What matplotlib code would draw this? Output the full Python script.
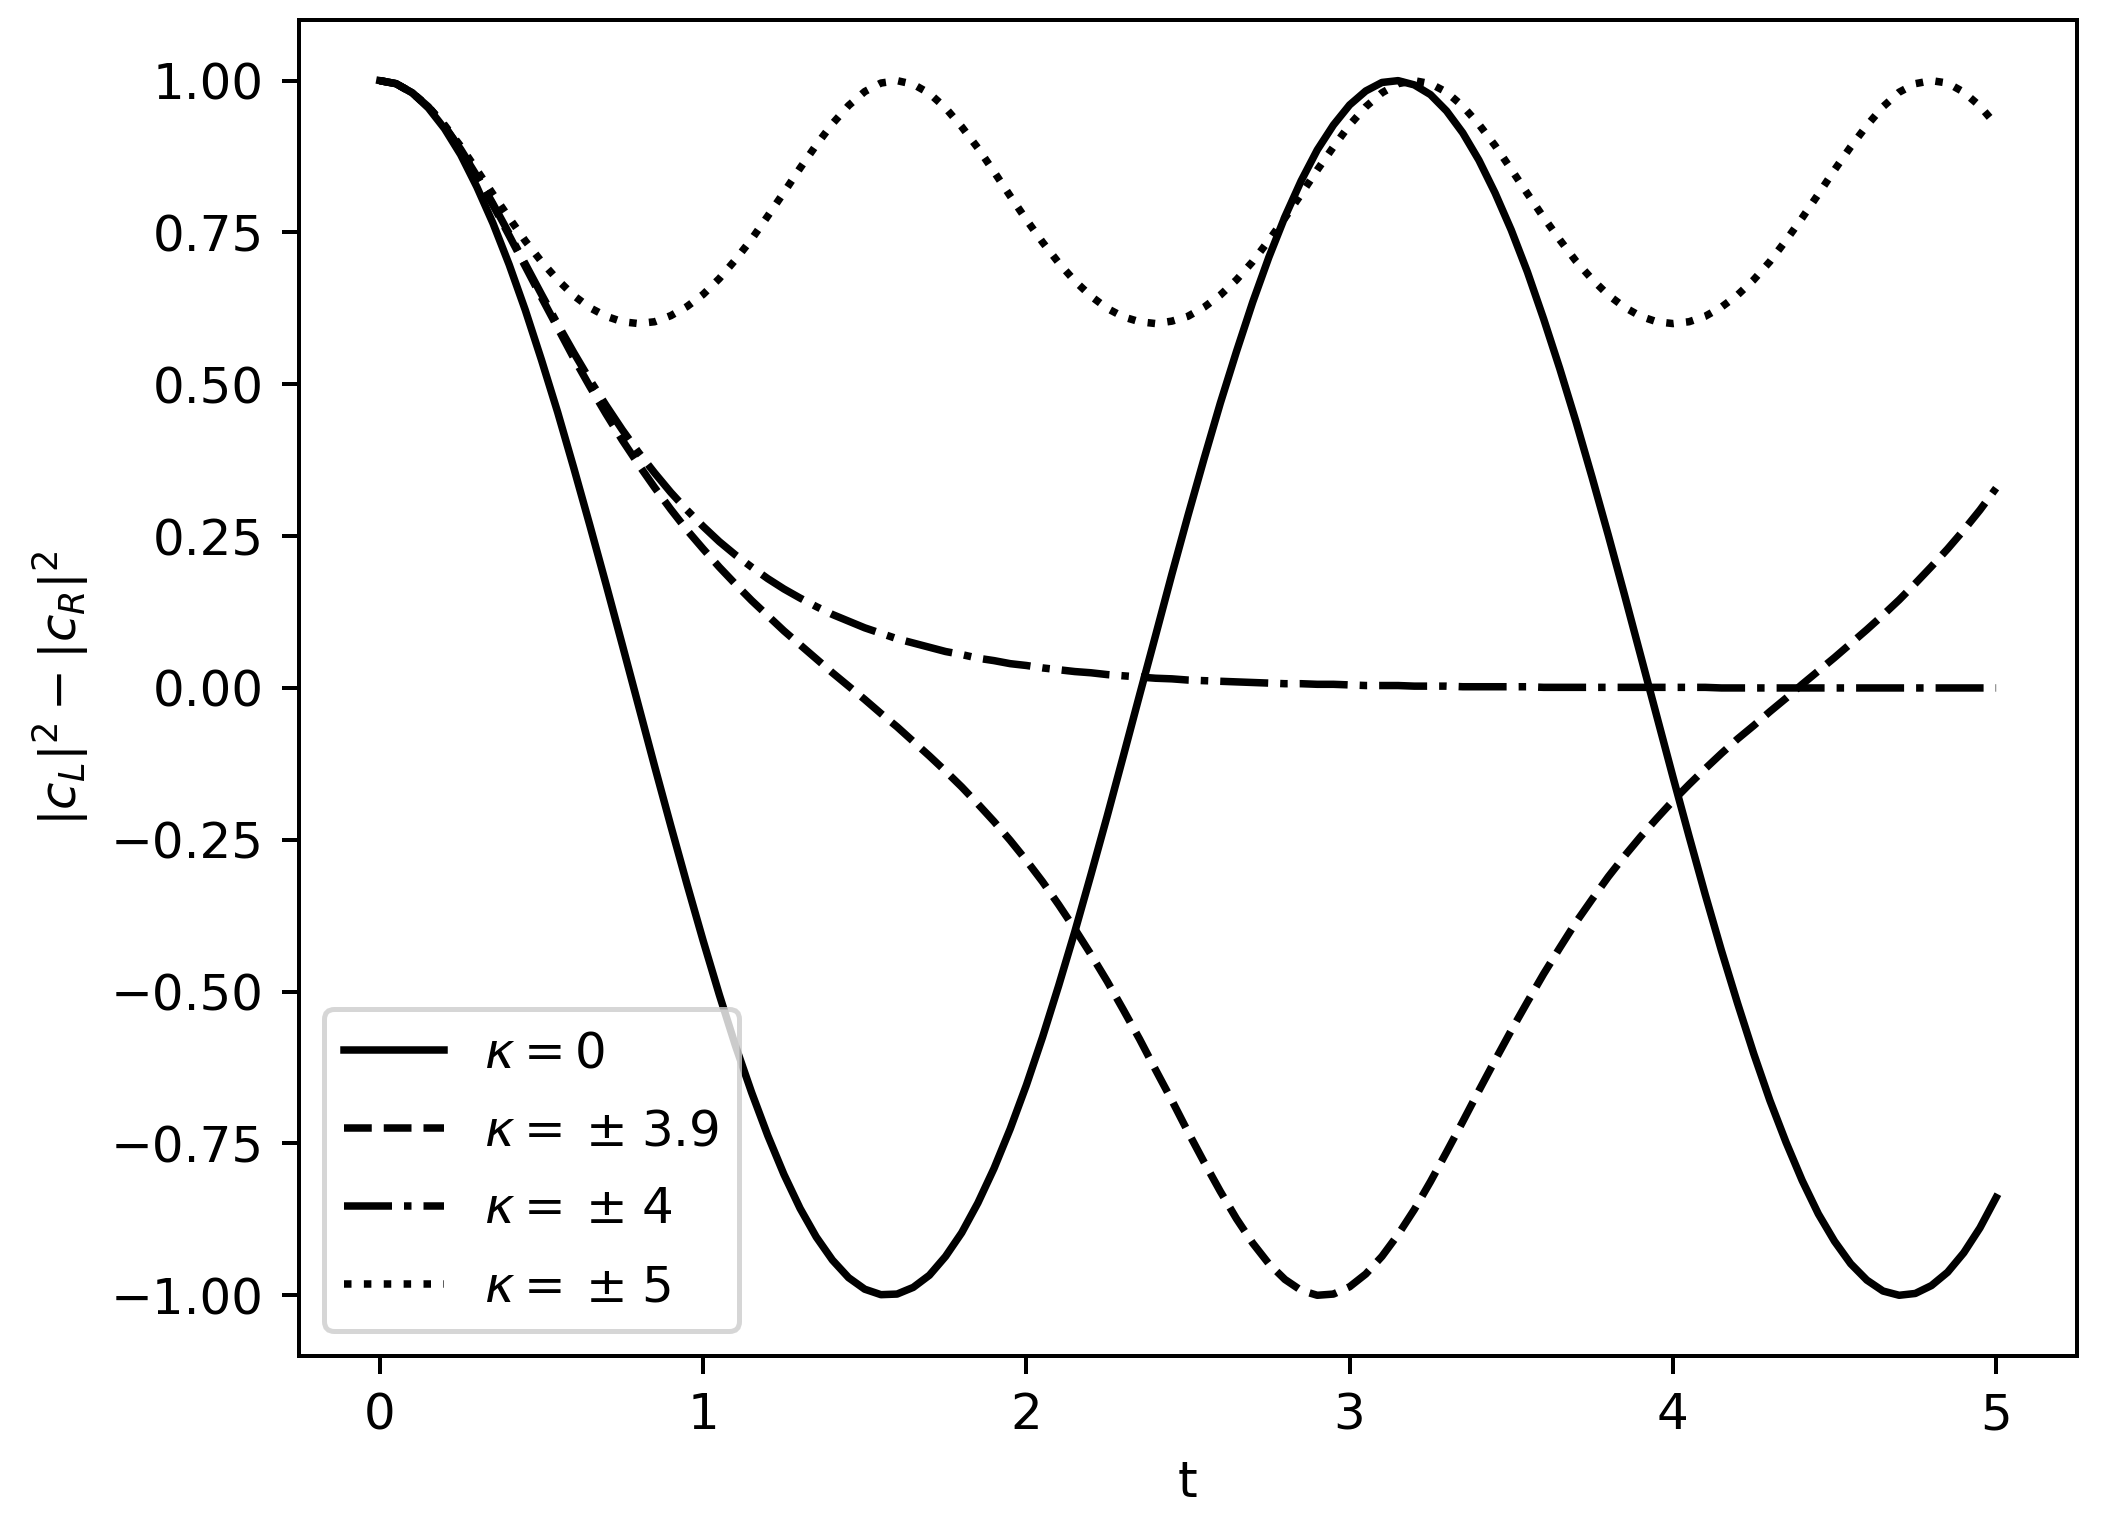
import numpy as np
import matplotlib
matplotlib.use("Agg")
import matplotlib.pyplot as plt

# time grid (0 .. 5, step 0.05)
t = np.linspace(0, 5, 101)

# kappa = 0
z_k0 = [1.000, 0.995, 0.980, 0.955, 0.921, 0.878, 0.825, 0.765, 0.697, 0.622,
        0.540, 0.454, 0.362, 0.267, 0.170, 0.071, -0.029, -0.129, -0.227, -0.323,
        -0.416, -0.505, -0.589, -0.666, -0.737, -0.801, -0.857, -0.904, -0.942, -0.971,
        -0.990, -0.999, -0.998, -0.987, -0.967, -0.936, -0.897, -0.848, -0.791, -0.726,
        -0.654, -0.575, -0.490, -0.401, -0.307, -0.211, -0.112, -0.012, 0.087, 0.187,
        0.284, 0.378, 0.469, 0.554, 0.635, 0.709, 0.776, 0.835, 0.886, 0.927,
        0.960, 0.983, 0.997, 1.000, 0.993, 0.977, 0.950, 0.914, 0.869, 0.815,
        0.754, 0.685, 0.608, 0.526, 0.439, 0.347, 0.252, 0.154, 0.054, -0.046,
        -0.146, -0.244, -0.340, -0.432, -0.519, -0.602, -0.679, -0.748, -0.811, -0.866,
        -0.911, -0.948, -0.975, -0.993, -1.000, -0.997, -0.984, -0.962, -0.930, -0.889,
        -0.839]

# kappa = +-3.9
z_k39 = [1.000, 0.995, 0.980, 0.957, 0.925, 0.886, 0.843, 0.795, 0.745, 0.694,
         0.643, 0.593, 0.543, 0.496, 0.451, 0.408, 0.368, 0.330, 0.294, 0.260,
         0.229, 0.199, 0.171, 0.144, 0.119, 0.094, 0.071, 0.048, 0.025, 0.003,
         -0.019, -0.042, -0.064, -0.088, -0.112, -0.137, -0.163, -0.191, -0.220, -0.251,
         -0.284, -0.319, -0.357, -0.397, -0.439, -0.483, -0.530, -0.578, -0.629, -0.679,
         -0.731, -0.781, -0.829, -0.874, -0.914, -0.948, -0.974, -0.992, -1.000, -0.998,
         -0.986, -0.965, -0.936, -0.900, -0.859, -0.813, -0.764, -0.714, -0.663, -0.613,
         -0.564, -0.517, -0.471, -0.428, -0.386, -0.348, -0.311, -0.277, -0.245, -0.215,
         -0.186, -0.159, -0.133, -0.108, -0.084, -0.062, -0.039, -0.017, 0.006, 0.028,
         0.050, 0.073, 0.096, 0.120, 0.145, 0.172, 0.200, 0.229, 0.260, 0.293,
         0.329]

# kappa = +-4
z_k4 = [1.000, 0.995, 0.980, 0.957, 0.925, 0.887, 0.844, 0.797, 0.748, 0.698,
        0.648, 0.599, 0.552, 0.507, 0.465, 0.425, 0.388, 0.354, 0.322, 0.293,
        0.266, 0.241, 0.219, 0.199, 0.180, 0.163, 0.148, 0.134, 0.121, 0.110,
        0.099, 0.090, 0.081, 0.074, 0.067, 0.060, 0.055, 0.049, 0.045, 0.040,
        0.037, 0.033, 0.030, 0.027, 0.025, 0.022, 0.020, 0.018, 0.016, 0.015,
        0.013, 0.012, 0.011, 0.010, 0.009, 0.008, 0.007, 0.007, 0.006, 0.006,
        0.005, 0.004, 0.004, 0.004, 0.003, 0.003, 0.003, 0.002, 0.002, 0.002,
        0.002, 0.002, 0.001, 0.001, 0.001, 0.001, 0.001, 0.001, 0.001, 0.001,
        0.001, 0.001, 0.001, 0.000, 0.000, 0.000, 0.000, 0.000, 0.000, 0.000,
        0.000, 0.000, 0.000, 0.000, 0.000, 0.000, 0.000, 0.000, 0.000, 0.000,
        0.000]

# kappa = +-5
z_k5 = [1.000, 0.995, 0.980, 0.957, 0.927, 0.892, 0.853, 0.813, 0.774, 0.736,
        0.702, 0.672, 0.646, 0.626, 0.612, 0.603, 0.600, 0.603, 0.613, 0.628,
        0.648, 0.674, 0.705, 0.739, 0.777, 0.816, 0.856, 0.894, 0.929, 0.959,
        0.982, 0.996, 1.000, 0.994, 0.979, 0.955, 0.924, 0.889, 0.850, 0.810,
        0.771, 0.734, 0.700, 0.670, 0.645, 0.625, 0.611, 0.603, 0.600, 0.604,
        0.612, 0.627, 0.647, 0.672, 0.702, 0.737, 0.774, 0.813, 0.853, 0.891,
        0.927, 0.957, 0.980, 0.995, 1.000, 0.995, 0.981, 0.958, 0.928, 0.893,
        0.854, 0.814, 0.775, 0.738, 0.703, 0.673, 0.647, 0.627, 0.612, 0.603,
        0.600, 0.603, 0.612, 0.627, 0.647, 0.672, 0.702, 0.737, 0.774, 0.813,
        0.853, 0.891, 0.926, 0.957, 0.981, 0.995, 1.000, 0.996, 0.981, 0.958,
        0.927]

labels = [r"$\kappa = 0$", r"$\kappa = \:\pm\; 3.9$",
          r"$\kappa = \:\pm\; 4$", r"$\kappa = \:\pm\; 5$"]

fig = plt.figure(figsize=(2115 / 360, 1531 / 360), dpi=360)
ax = fig.add_axes([0.1414, 0.1143, 0.8406, 0.8727])

ax.plot(t, z_k0, "k-", label=labels[0])
ax.plot(t, z_k39, "k--", label=labels[1])
ax.plot(t, z_k4, "k-.", label=labels[2])
ax.plot(t, z_k5, "k:", label=labels[3])

ax.set_xlabel("t")
ax.set_ylabel(r"$|c_L|^2-|c_R|^2$")
ax.legend(loc="lower left", labelspacing=0.6)

fig.savefig("out.png", dpi=360)
